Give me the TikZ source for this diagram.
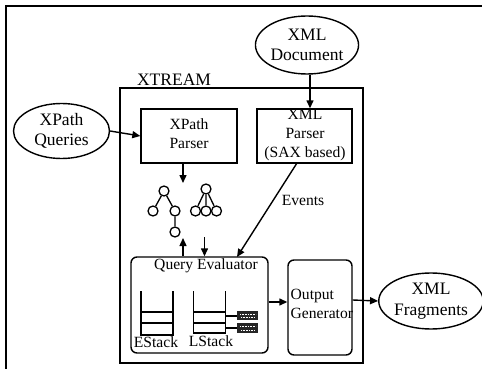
\documentclass[tikz,border=0pt]{standalone}
\usepackage{fontspec}
\setmainfont{Liberation Serif}
\usetikzlibrary{arrows.meta,shapes.geometric}
\begin{document}
\begin{tikzpicture}[x=1pt,y=-1pt,
  txt/.style={font=\fontsize{15.6}{19}\selectfont, inner sep=0pt, align=center},
  bigtxt/.style={font=\fontsize{17.5}{20.5}\selectfont, inner sep=0pt, align=center},
  oval/.style={ellipse, draw, line width=1.4pt, inner sep=0pt, bigtxt},
  box/.style={rectangle, draw, line width=1.4pt, inner sep=0pt},
  rbox/.style={box, rounded corners=6pt},
  arr/.style={line width=1.4pt, -{Triangle[length=8pt,width=7pt]}},
  tnode/.style={circle, draw, line width=1.3pt, minimum size=10pt, inner sep=0pt},
  tedge/.style={line width=1.3pt},
  stk/.style={line width=1.3pt},
  entry/.style={rectangle, fill=black!85, inner sep=0pt, minimum width=21pt},
  speck/.style={white, line width=0.5pt, dash pattern=on 1pt off 0.6pt}]
\useasboundingbox (0,0) rectangle (482,369);

% outer frame (top and left edges)
\draw[line width=2pt] (482,6) -- (5.5,6) -- (5.5,369);

% system container
\node[box, minimum width=243pt, minimum height=275pt] (xtream) at (241.5,225.5) {};
\node[bigtxt] (xtreamlbl) at (174,80) {XTREAM};

% external inputs and output
\node[oval, minimum width=96pt, minimum height=55pt] (xq) at (61.5,131) {XPath\\Queries};
\node[oval, minimum width=90pt, minimum height=58pt] (doc) at (307,45) {XML\\Document};
\node[oval, minimum width=96pt, minimum height=56pt] (frag) at (431,301) {XML\\Fragments};

% parsers
\node[box, minimum width=96pt, minimum height=54pt] (xpp) at (189,136) {};
\node[txt] (xpplbl) at (189,134) {XPath\\Parser};
\node[box, minimum width=95pt, minimum height=54pt] (xmlp) at (304.5,136) {};
\node[txt] (xmlplbl) at (305,135) {XML\\Parser\\(SAX based)};

% query evaluator and output generator
\node[rbox, minimum width=137pt, minimum height=96pt] (qe) at (199.5,305) {};
\node[txt] (qelbl) at (206,266) {Query Evaluator};
\node[rbox, minimum width=64pt, minimum height=95pt] (og) at (320,307.5) {};
\node[txt, align=left, anchor=west] (oglbl) at (290.5,304) {Output\\Generator};

% query trees
\node[tnode] (a0) at (164,191) {};
\node[tnode] (a1) at (153,211) {};
\node[tnode] (a2) at (175,211) {};
\node[tnode] (a3) at (175,232) {};
\draw[tedge] (a0) -- (a1) (a0) -- (a2) (a2) -- (a3);
\node[tnode] (b0) at (206,189) {};
\node[tnode] (b1) at (195.5,211) {};
\node[tnode] (b2) at (206,211) {};
\node[tnode] (b3) at (216.5,211) {};
\draw[tedge] (b0) -- (b1) (b0) -- (b2) (b0) -- (b3);

% stacks
\draw[stk] (141,291) -- (141,335) -- (173,335) -- (173,291);
\draw[stk] (141,312) -- (173,312) (141,323) -- (173,323);
\node[txt] (estack) at (156,342) {EStack};
\draw[stk] (193.5,291) -- (193.5,333) -- (225.5,333) -- (225.5,291);
\draw[stk] (193.5,312) -- (225.5,312) (193.5,323) -- (225.5,323);
\node[txt] (lstack) at (211,341) {LStack};

% stack entry records
\node[entry, minimum height=9pt] (e1) at (247.5,315.5) {};
\node[entry, minimum height=10pt] (e2) at (247.5,328) {};
\draw[speck] (240,314) -- (256,314) (241,317.5) -- (255,317.5);
\draw[speck] (240,326.5) -- (256,326.5) (241,330) -- (255,330);
\coordinate (l1) at (225.5,316);
\coordinate (l2) at (225.5,328);
\draw[stk] (l1) -- (l1 -| e1.west);
\draw[stk] (l2) -- (e2.west);

% connectors
\coordinate (treetop) at (183,183);
\coordinate (treebot) at (183,238);
\coordinate (downtop) at (204.5,237);
\coordinate (evsrc) at (297,163);
\coordinate (evdst) at (237,257);
\coordinate (docx) at (310,0);
\coordinate (qey) at (0,302);
\coordinate (ogy) at (0,300);
\draw[arr] (doc.south -| docx) -- (xmlp.north -| docx);
\draw[arr] (xq.east) -- (xpp.west);
\draw[arr] (xpp.south -| treetop) -- (treetop);
\draw[arr] (qe.north -| treebot) -- (treebot);
\draw[arr] (downtop) -- (qe.north -| downtop);
\draw[arr] (evsrc) -- (evdst);
\node[txt] (events) at (303,200) {Events};
\draw[arr] (qe.east |- qey) -- (og.west |- qey);
\draw[arr] (og.east |- ogy) -- (frag.west);
\end{tikzpicture}
\end{document}
